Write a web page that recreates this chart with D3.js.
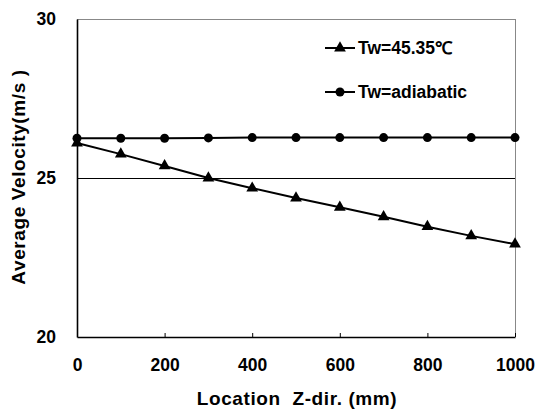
<!DOCTYPE html>
<html>
<head>
<meta charset="utf-8">
<script src="https://cdn.jsdelivr.net/npm/d3@7"></script>
<style>
  body { margin: 0; background: #fff; }
  svg text { font-family: "Liberation Sans", Arial, sans-serif; font-weight: bold; }
</style>
</head>
<body>
<svg id="chart" width="539" height="413"></svg>
<script>
// data
const locations = [0, 100, 200, 300, 400, 500, 600, 700, 800, 900, 1000];
const heated = [26.1, 25.75, 25.38, 25.0, 24.68, 24.37, 24.08, 23.78, 23.47, 23.18, 22.92];
const adiabatic = [26.25, 26.25, 26.25, 26.26, 26.27, 26.27, 26.27, 26.27, 26.27, 26.27, 26.27];
const xTicks = [0, 200, 400, 600, 800, 1000];
const yTicks = [20, 25, 30];

const svg = d3.select('#chart');
const margin = { top: 19, right: 24, bottom: 76, left: 77 };
const width = 539, height = 413;

const x = d3.scaleLinear()
    .domain([0, 1000])
    .range([margin.left, width - margin.right]);

const y = d3.scaleLinear()
    .domain([20, 30])
    .range([height - margin.bottom, margin.top]);

// plot frame (top gridline + right border, grey)
svg.append('line')
    .attr('x1', x(0)).attr('x2', x(1000))
    .attr('y1', y(30) + 0.5).attr('y2', y(30) + 0.5)
    .attr('stroke', '#888').attr('stroke-width', 1);
svg.append('line')
    .attr('x1', x(1000) + 0.5).attr('x2', x(1000) + 0.5)
    .attr('y1', y(30)).attr('y2', y(20))
    .attr('stroke', '#888').attr('stroke-width', 1);

// gridline at 25
svg.append('line')
    .attr('x1', x(0)).attr('x2', x(1000))
    .attr('y1', y(25) + 0.5).attr('y2', y(25) + 0.5)
    .attr('stroke', '#000').attr('stroke-width', 1);

const fontStyle = sel => sel.attr('fill', '#000')
    .style('font-family', '"Liberation Sans", Arial, sans-serif')
    .style('font-weight', 'bold');

// axes
const xAxis = svg.append('g')
    .attr('transform', `translate(0, ${y(20)})`)
    .call(d3.axisBottom(x).tickValues(xTicks).tickFormat(d3.format('d'))
        .tickSizeInner(-4).tickSizeOuter(0).tickPadding(22));
xAxis.select('.domain').attr('stroke-width', 1.6);
xAxis.selectAll('text').attr('font-size', 17.5).call(fontStyle);

const yAxis = svg.append('g')
    .attr('transform', `translate(${x(0)}, 0)`)
    .call(d3.axisLeft(y).tickValues(yTicks).tickSize(0).tickPadding(21));
yAxis.select('.domain').attr('stroke-width', 1.6);
yAxis.selectAll('text').attr('font-size', 17.5).call(fontStyle);

// series lines
const line = d3.line()
    .x((d, i) => x(locations[i]))
    .y(d => y(d));

svg.append('path')
    .datum(adiabatic)
    .attr('fill', 'none').attr('stroke', '#000').attr('stroke-width', 2)
    .attr('d', line);

svg.append('path')
    .datum(heated)
    .attr('fill', 'none').attr('stroke', '#000').attr('stroke-width', 2)
    .attr('d', line);

const tri = d3.symbol().type(d3.symbolTriangle).size(60);

svg.append('g').selectAll('circle')
    .data(adiabatic)
    .join('circle')
    .attr('cx', (d, i) => x(locations[i]))
    .attr('cy', d => y(d))
    .attr('r', 4.5)
    .attr('fill', '#000');

svg.append('g').selectAll('path')
    .data(heated)
    .join('path')
    .attr('d', tri)
    .attr('transform', (d, i) => `translate(${x(locations[i])}, ${y(d)})`)
    .attr('fill', '#000');

// legend
const legend = [
    { label: 'Tw=45.35\u2103', marker: 'tri', yPos: 48 },
    { label: 'Tw=adiabatic', marker: 'circle', yPos: 92 }
];
legend.forEach(item => {
    svg.append('line')
        .attr('x1', 325).attr('x2', 355)
        .attr('y1', item.yPos).attr('y2', item.yPos)
        .attr('stroke', '#000').attr('stroke-width', 2);
    if (item.marker === 'tri') {
        svg.append('path').attr('d', tri)
            .attr('transform', `translate(340, ${item.yPos})`).attr('fill', '#000');
    } else {
        svg.append('circle').attr('cx', 340).attr('cy', item.yPos).attr('r', 4.5).attr('fill', '#000');
    }
    svg.append('text')
        .attr('x', 358).attr('y', item.yPos)
        .attr('dy', '0.35em')
        .attr('font-size', 17.5)
        .text(item.label);
});

// axis titles
svg.append('text')
    .attr('x', 297).attr('y', 405)
    .attr('text-anchor', 'middle')
    .attr('font-size', 19)
    .attr('letter-spacing', 0.6)
    .attr('xml:space', 'preserve')
    .style('white-space', 'pre')
    .text('Location  Z-dir. (mm)');

svg.append('text')
    .attr('transform', 'rotate(-90)')
    .attr('x', -177).attr('y', 25)
    .attr('text-anchor', 'middle')
    .attr('font-size', 19)
    .attr('letter-spacing', 0.6)
    .style('white-space', 'pre')
    .text('Average Velocity(m/s )');
</script>
</body>
</html>
